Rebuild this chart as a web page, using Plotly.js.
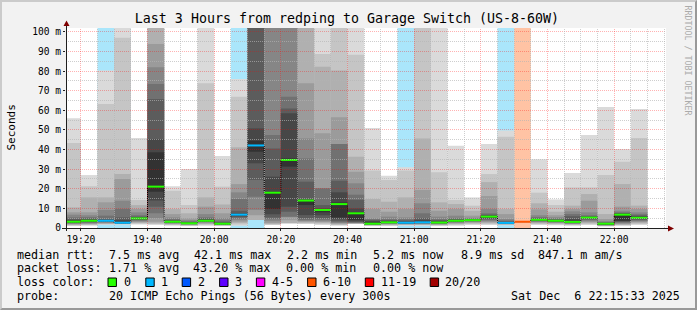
<!DOCTYPE html>
<html><head><meta charset="utf-8">
<script src="https://cdn.plot.ly/plotly-3.0.1.min.js"></script>
<style>html,body{margin:0;padding:0;background:#f2f2f2;overflow:hidden}
#wrap{position:relative;width:697px;height:310px}
#chart{width:697px;height:310px}
#frame{position:absolute;left:0;top:0;width:693px;height:306px;border-top:2px solid #cbcbcb;border-left:2px solid #cbcbcb;border-right:2px solid #999999;border-bottom:2px solid #999999;pointer-events:none}
</style>
</head><body><div id="wrap"><div id="chart"></div><div id="frame"></div></div>
<script>
// ---------- data ----------
const day = '2025-12-06';
const times = ['19:15','19:20','19:25','19:30','19:35','19:40','19:45','19:50','19:55','20:00',
  '20:05','20:10','20:15','20:20','20:25','20:30','20:35','20:40','20:45','20:50',
  '20:55','21:00','21:05','21:10','21:15','21:20','21:25','21:30','21:35','21:40',
  '21:45','21:50','21:55','22:00','22:05'];
// median rtt (ms)
const median = [3.2,3.7,3.7,2.7,4.9,21.1,3.2,2.4,3.7,2.2,
  6.8,42.1,18.0,34.7,14.0,9.2,12.2,7.5,2.2,2.9,
  2.7,2.9,2.8,3.7,4.0,5.8,2.6,3.2,4.2,3.7,
  3.1,5.3,2.2,6.8,5.2];
// loss class per step
const loss = ['0','0','1','1','0','0','0','0','0','0',
  '1','1','0','0','0','0','0','0','0','0',
  '1','1','0','0','0','0','1','6-10','0','0',
  '0','0','0','0','0'];
// smoke: upper edges of the nested bands (outer -> inner), ms
const hi1 = [56.0,27.0,80.3,104,45.9,104,21.3,30.1,104,36.7,76.0,104,104,104,104,104,104,104,51.0,26.7,31.0,104,104,42.0,15.6,42.9,49.7,3.6,35.0,14.6,28.1,47.4,61.7,40.3,60.7];
const hi2 = [43.4,21.3,63.3,97.0,14.3,104,19.0,11.7,73.8,21.1,67.0,104,104,104,104,88.8,104,88.3,29.3,24.5,29.3,104,28.4,14.3,11.4,27.5,46.6,3.5,18.0,11.7,20.7,20.7,27.0,33.8,45.9];
const hi3 = [10.5,15.6,15.6,27.6,11.7,104,9.7,7.5,15.6,12.0,41.2,104,104,104,104,82.3,80.3,36.4,14.8,13.4,15.6,45.7,13.1,12.2,8.8,23.4,9.7,3.4,12.6,8.3,11.4,17.3,7.1,22.4,11.4];
const hi4 = [8.0,8.0,13.1,25.0,9.7,93.9,7.1,5.0,10.9,7.5,22.4,104,104,104,73.8,48.3,56.5,28.7,9.7,8.3,9.7,19.4,8.8,9.7,6.3,16.3,7.1,3.4,9.5,6.5,9.7,13.9,4.6,10.9,9.7];
const hi5 = [6.8,6.5,9.2,13.9,8.0,82.0,5.4,4.0,7.1,5.0,18.2,104,104,104,45.7,20.2,42.9,22.8,4.9,5.8,5.4,12.6,5.8,6.3,5.2,9.7,4.6,3.3,6.5,5.5,8.5,8.0,3.5,8.8,8.0];
const hi6 = [5.4,5.5,6.3,9.7,6.5,73.5,4.6,3.4,5.4,3.8,14.8,104,47.4,67.0,35.5,20.2,42.9,17.0,4.5,4.5,4.5,7.5,4.5,5.0,4.8,7.5,3.8,3.3,5.5,4.8,7.1,6.5,3.0,8.0,7.0];
const hi7 = [4.6,4.8,4.6,5.4,5.8,65.8,4.0,3.0,4.8,3.0,8.8,104,40.6,61.0,23.6,11.7,24.1,14.3,4.0,4.0,3.8,5.0,4.0,4.5,4.6,6.8,3.3,3.3,5.0,4.4,6.0,6.0,2.7,7.6,6.4];
const hi8 = [4.0,4.3,4.2,4.0,5.4,45.4,3.6,2.8,4.4,2.6,7.5,50.8,26.2,58.5,14.6,10.0,18.2,10.0,3.5,3.5,3.3,4.0,3.5,4.2,4.4,6.4,3.0,3.3,4.6,4.1,4.5,5.7,2.5,7.3,6.0];
const hi9 = [3.5,4.0,3.9,3.2,5.1,38.6,3.4,2.6,4.0,2.4,7.1,44.5,18.5,35.5,14.3,9.5,13.0,8.0,2.8,3.2,3.0,3.3,3.1,4.0,4.2,6.1,2.8,3.2,4.4,3.9,3.4,5.5,2.4,7.0,5.5];
// smoke: lower edges of the nested bands (outer -> inner), ms
const lo1 = [1.0,1.2,1.7,1.7,1.8,1.5,1.2,1.0,1.2,1.0,1.2,4.1,1.5,2.4,2.0,1.5,1.2,2.0,1.0,1.0,1.2,1.2,1.0,1.2,1.5,1.5,1.4,2.9,1.5,1.4,1.2,1.5,0.8,1.2,1.5];
const lo2 = [1.3,1.5,1.9,1.9,2.2,2.0,1.5,1.2,1.6,1.2,1.8,4.1,1.7,2.4,2.3,2.0,1.5,2.0,1.2,1.3,1.5,1.5,1.3,1.6,2.0,2.0,1.6,3.0,2.0,1.8,1.5,2.0,1.0,1.4,2.0];
const lo3 = [1.6,1.8,2.1,2.0,2.6,2.4,1.8,1.4,2.0,1.4,2.5,4.1,2.0,2.4,2.7,2.5,1.8,2.0,1.4,1.6,1.7,1.7,1.6,2.0,2.4,2.5,1.8,3.0,2.4,2.2,1.8,2.5,1.2,1.6,2.5];
const lo4 = [1.9,2.1,2.4,2.1,3.0,3.2,2.1,1.6,2.4,1.6,3.2,6.5,2.5,4.0,3.2,3.0,2.2,2.7,1.6,1.9,1.9,1.9,1.8,2.4,2.8,3.0,2.0,3.1,2.8,2.5,2.0,3.0,1.3,2.0,3.0];
const lo5 = [2.2,2.4,2.7,2.2,3.4,5.0,2.4,1.8,2.8,1.7,4.0,9.2,3.5,5.8,3.6,3.5,2.6,2.7,1.7,2.1,2.1,2.1,2.0,2.7,3.1,3.5,2.1,3.1,3.1,2.8,2.2,3.5,1.4,2.4,3.4];
const lo6 = [2.4,2.7,3.0,2.3,3.8,7.5,2.6,2.0,3.1,1.8,4.8,16.0,4.5,5.8,4.1,4.2,2.9,2.7,1.8,2.3,2.2,2.3,2.2,3.0,3.4,4.0,2.2,3.1,3.4,3.0,2.4,4.0,1.5,2.8,3.8];
const lo7 = [2.6,3.0,3.2,2.4,4.1,10.9,2.8,2.1,3.3,1.9,5.5,24.5,5.4,8.3,5.0,5.0,3.5,3.0,1.9,2.5,2.3,2.5,2.4,3.2,3.6,4.5,2.3,3.1,3.7,3.2,2.6,4.4,1.6,3.2,4.2];
const lo8 = [2.8,3.3,3.4,2.5,4.4,14.0,3.0,2.2,3.5,2.0,6.0,33.0,7.0,10.9,6.6,6.5,4.5,3.5,2.0,2.6,2.4,2.6,2.5,3.4,3.8,5.0,2.4,3.2,3.9,3.4,2.8,4.8,1.7,3.5,4.6];
const lo9 = [3.0,3.5,3.6,2.6,4.7,18.5,3.1,2.3,3.6,2.1,6.4,38.9,9.7,31.3,11.7,8.0,5.4,4.1,2.1,2.7,2.5,2.7,2.6,3.5,3.9,5.4,2.5,3.2,4.0,3.5,2.9,5.0,1.9,3.7,4.9];
// tick labels
const xTicks = ['19:20','19:40','20:00','20:20','20:40','21:00','21:20','21:40','22:00'];
const yTickVals = [0,10,20,30,40,50,60,70,80,90,100];
const yTickText = ['0','10 m','20 m','30 m','40 m','50 m','60 m','70 m','80 m','90 m','100 m'];
// legend
const lossLabels = ['0','1','2','3','4-5','6-10','11-19','20/20'];
const lossColors = ['#26ff00','#00b8ff','#0059ff','#5e00ff','#ff00ff','#ff5500','#ff0000','#a10000'];
const lossBg = {'1':'#aae6fb','6-10':'#ffc3a4'};
const titleText = 'Last 3 Hours from redping to Garage Switch (US-8-60W)';
const rttItems = ['median rtt:','7.5 ms avg','42.1 ms max','2.2 ms min','5.2 ms now','8.9 ms sd','847.1 m am/s'];
const lossItems = ['packet loss:','1.71 % avg','43.20 % max','0.00 % min','0.00 % now'];
const probeItems = ['probe:','20 ICMP Echo Pings (56 Bytes) every 300s'];
const stampText = 'Sat Dec  6 22:15:33 2025';

// ---------- helpers ----------
const STEP = 300; // seconds
const pad = n => String(n).padStart(2,'0');
const toSec = t => (+t.slice(0,2))*3600 + (+t.slice(3,5))*60 + (t.length>5 ? +t.slice(6,8) : 0);
const stamp = s => `${day} ${pad(Math.floor(s/3600))}:${pad(Math.floor(s/60)%60)}:${pad(s%60)}`;
const nb = s => s.replace(/ /g,'\u00a0');
const L=66, R=666, T=28, B=228;
const fx = px => (px-L)/(R-L);
const fy = py => (B-py)/(B-T);
const Y_TOP = 102;
const X0 = toSec('19:15:33'), X1 = toSec('22:15:33');
const snap = p => Math.round(p-0.5)+0.5;

const starts = times.map(t=>toSec(t));
const centers = starts.map(s => stamp(s + STEP/2));

const his = [hi1,hi2,hi3,hi4,hi5,hi6,hi7,hi8,hi9];
const los = [lo1,lo2,lo3,lo4,lo5,lo6,lo7,lo8,lo9];
const shades = ['#dadada','#c5c5c5','#b0b0b0','#9b9b9b','#868686','#717171','#5c5c5c','#474747','#323232'];

const traces = [];
traces.push({type:'bar', x:centers, base:centers.map(()=>0),
  y: loss.map(c => lossBg[c] ? Y_TOP : 0),
  width: STEP*1000, marker:{color: loss.map(c => lossBg[c] || 'rgba(0,0,0,0)'), line:{width:0}},
  hoverinfo:'skip'});
for (let k=0;k<9;k++) {
  traces.push({type:'bar', x:centers, base:los[k], y:his[k].map((h,i)=>h-los[k][i]),
    width: STEP*1000, marker:{color:shades[k], line:{width:0}}, hoverinfo:'skip'});
}
const stepX = starts.map(s=>stamp(s)).concat([stamp(starts[starts.length-1]+STEP)]);
const stepY = median.concat([median[median.length-1]]);
traces.push({type:'scatter', mode:'lines', x:stepX, y:stepY,
  line:{shape:'hv', color:'#000', width:1, dash:'1px,1px'}, hoverinfo:'skip'});
lossLabels.forEach((lab, li) => {
  const xs=[], ys=[];
  loss.forEach((c,i) => { if (c===lab) { xs.push(stamp(starts[i]), stamp(starts[i]+STEP), null); ys.push(median[i], median[i], null); } });
  if (xs.length) traces.push({type:'scatter', mode:'lines', x:xs, y:ys,
    line:{color:lossColors[li], width:2}, hoverinfo:'skip'});
});

// ---------- grid / axes (above data, pixel-snapped) ----------
const MAJ='rgba(255,0,0,0.3)', MIN='rgba(180,180,180,0.65)';
const GD = '1px,1px';
const shapes=[];
for (let v=5; v<=100; v+=5) {
  const py = snap(B - v*(B-T)/Y_TOP);
  shapes.push({type:'line', layer:'above', xref:'paper', yref:'paper', x0:0, x1:1, y0:fy(py), y1:fy(py),
    line:{color: v%10===0?MAJ:MIN, width:1, dash:GD}});
}
const t0 = toSec('19:20'), t1 = toSec('22:15');
for (let s=t0; s<=t1; s+=STEP) {
  const major = ((s - t0) % 1200) === 0;
  const px = snap(L + (s-X0)/(X1-X0)*(R-L));
  shapes.push({type:'line', layer:'above', xref:'paper', yref:'paper', x0:fx(px), x1:fx(px), y0:0, y1:1,
    line:{color: major?MAJ:MIN, width:1, dash:GD}});
}
shapes.push({type:'line', layer:'above', xref:'paper', yref:'paper', x0:fx(66.5), x1:fx(66.5), y0:fy(231), y1:fy(24), line:{color:'#1f1f1f', width:1}});
shapes.push({type:'line', layer:'above', xref:'paper', yref:'paper', x0:fx(62), x1:fx(669), y0:fy(228.5), y1:fy(228.5), line:{color:'#1f1f1f', width:1}});
const tri = (pts) => 'M' + pts.map(p => fx(p[0]) + ',' + fy(p[1])).join(' L') + ' Z';
shapes.push({type:'path', layer:'above', xref:'paper', yref:'paper', path: tri([[63.5,26],[66.5,20.5],[69.5,26]]), fillcolor:'#7f0000', line:{width:0}});
shapes.push({type:'path', layer:'above', xref:'paper', yref:'paper', path: tri([[668,225.5],[674,228.5],[668,231.5]]), fillcolor:'#7f0000', line:{width:0}});
const swX = [108,145.8,182.2,219.6,256.4,307.6,365.3,430.2];
const labX = [123,160,197.3,234.2,271.1,321.8,379.6,444.4];
swX.forEach((x,i)=>{
  shapes.push({type:'rect', xref:'paper', yref:'paper', x0:fx(x), x1:fx(x+8.4), y0:fy(286.5), y1:fy(278), fillcolor:lossColors[i], line:{color:'#000', width:1}});
});

const MONO = 'DejaVu Sans Mono';
const ann = (text, px, py, opts={}) => Object.assign({text:nb(text), xref:'paper', yref:'paper', x:fx(px), y:fy(py),
  xanchor:'left', yanchor:'middle', showarrow:false, font:{family:MONO, size:11.7, color:'#000'}, borderpad:0}, opts);
const annotations = [];
const rttX = [16.4,107.6,193.3,286.2,372.4,460,536.9];
rttItems.forEach((t,i)=>annotations.push(ann(t, rttX[i], 254.7)));
const lossX = [16.4,107.6,192.4,285.3,372];
lossItems.forEach((t,i)=>annotations.push(ann(t, lossX[i], 268.3)));
annotations.push(ann('loss color:', 16.4, 282.3));
lossLabels.forEach((lab,i)=> annotations.push(ann(lab, labX[i], 282.3)));
const probeX = [16.4,107.6];
probeItems.forEach((t,i)=>annotations.push(ann(t, probeX[i], 296.3)));
annotations.push(ann(stampText, 680.5, 296.3, {xanchor:'right'}));
annotations.push(ann('Seconds', 10.5, 128, {xanchor:'center', textangle:-90, font:{family:MONO, size:11, color:'#000'}}));
annotations.push(ann('RRDTOOL / TOBI OETIKER', 687.5, 60, {xanchor:'center', textangle:90, font:{family:MONO, size:8.3, color:'#ababab'}}));

const layout = {
  width:697, height:310,
  margin:{l:L, r:697-R, t:T, b:310-B, pad:0},
  paper_bgcolor:'#f2f2f2', plot_bgcolor:'#ffffff',
  barmode:'overlay', showlegend:false, hovermode:false,
  font:{family:MONO, color:'#000'},
  title:{text:titleText, font:{family:MONO, size:13.3, color:'#000'}, xref:'container', x:347/697, xanchor:'center', yref:'container', y:1-18.5/310, yanchor:'middle'},
  xaxis:{type:'date', range:[stamp(X0), stamp(X1)], tickmode:'array',
    tickvals: xTicks.map(t=>stamp(toSec(t))), ticktext: xTicks,
    tickfont:{family:MONO, size:9.6, color:'#000'}, showgrid:false, zeroline:false, showline:false,
    ticks:'outside', ticklen:2, tickcolor:'#1f1f1f', fixedrange:true},
  yaxis:{range:[0,Y_TOP], tickmode:'array', tickvals:yTickVals, ticktext:yTickText,
    tickfont:{family:MONO, size:9.6, color:'#000'}, showgrid:false, zeroline:false, showline:false,
    ticks:'outside', ticklen:2, tickcolor:'#1f1f1f', fixedrange:true},
  shapes, annotations
};
Plotly.newPlot('chart', traces, layout, {staticPlot:true, displayModeBar:false});
</script></body></html>
